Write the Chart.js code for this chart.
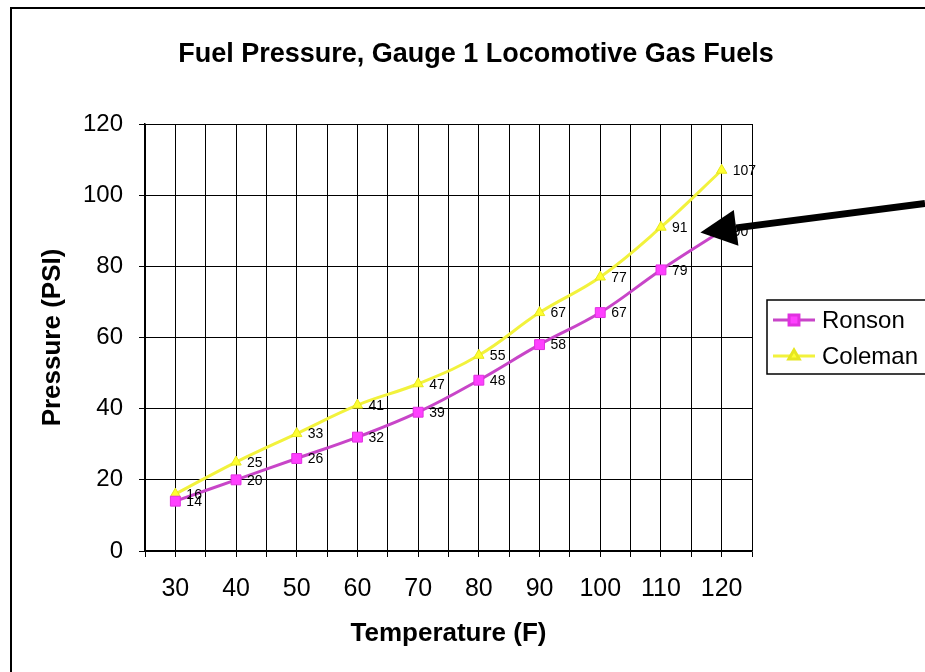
<!DOCTYPE html>
<html>
<head>
<meta charset="utf-8">
<script src="https://cdn.jsdelivr.net/npm/chart.js@4.4.1/dist/chart.umd.min.js"></script>
<style>
  body { margin: 0; background: #fff; }
  canvas { display: block; }
</style>
</head>
<body>
<canvas id="grafico" width="925" height="672"></canvas>
<script>
// values
const temps = [30, 40, 50, 60, 70, 80, 90, 100, 110, 120];
const ronson = [14, 20, 26, 32, 39, 48, 58, 67, 79, 90];
const coleman = [16, 25, 33, 41, 47, 55, 67, 77, 91, 107];
const seriesNames = ['Ronson', 'Coleman'];
const titleText = 'Fuel Pressure, Gauge 1 Locomotive Gas Fuels';

const FONT = '"Liberation Sans", Arial, sans-serif';
Chart.defaults.font.family = FONT;
Chart.defaults.color = '#000';

function pts(vals) {
    return temps.map((t, i) => ({x: t, y: vals[i]}));
}

var extras = {
    id: 'extras',
    afterDatasetsDraw(chart) {
        const ctx = chart.ctx;
        ctx.save();
        ctx.font = '14px ' + FONT;
        ctx.fillStyle = '#000';
        ctx.textAlign = 'left';
        ctx.textBaseline = 'middle';
        chart.data.datasets.forEach((ds, i) => {
            chart.getDatasetMeta(i).data.forEach((pt, j) => {
                ctx.fillText(String(ds.data[j].y), pt.x + 11, pt.y + 1);
            });
        });
        ctx.restore();
    },
    afterDraw(chart) {
        const ctx = chart.ctx;
        const xs = chart.scales.x, ys = chart.scales.y;
        ctx.save();

        // outer frame (cropped at right and bottom)
        ctx.strokeStyle = '#000';
        ctx.lineWidth = 2;
        ctx.strokeRect(11, 8, 1000, 1000);

        // title
        ctx.font = 'bold 27px ' + FONT;
        ctx.textAlign = 'center';
        ctx.textBaseline = 'middle';
        ctx.fillStyle = '#000';
        ctx.fillText(titleText, 476, 55);

        // legend box
        ctx.lineWidth = 1.5;
        ctx.strokeRect(767, 300, 200, 74);
        ctx.font = '24px ' + FONT;
        ctx.textAlign = 'left';
        const rows = [320, 356];
        chart.data.datasets.forEach((ds, i) => {
            const y = rows[i];
            ctx.strokeStyle = ds.borderColor;
            ctx.lineWidth = 3;
            ctx.beginPath();
            ctx.moveTo(773, y);
            ctx.lineTo(815, y);
            ctx.stroke();
            ctx.fillStyle = ds.pointBackgroundColor;
            ctx.strokeStyle = ds.pointBorderColor;
            Chart.helpers.drawPoint(ctx, {pointStyle: ds.pointStyle, radius: ds.pointRadius, rotation: 0, borderWidth: 1}, 794, y);
            ctx.fillStyle = '#000';
            ctx.fillText(ds.label, 822, y + 1);
        });

        // arrow pointing at the Ronson curve near 115 F
        const tipX = xs.getPixelForValue(116.5), tipY = ys.getPixelForValue(89.5);
        const tailX = chart.width, tailY = ys.getPixelForValue(97.7);
        const ang = Math.atan2(tailY - tipY, tailX - tipX);
        const headLen = 36, headW = 18;
        const bx = tipX + Math.cos(ang) * headLen, by = tipY + Math.sin(ang) * headLen;
        ctx.strokeStyle = '#000';
        ctx.lineWidth = 7;
        ctx.beginPath();
        ctx.moveTo(bx, by);
        ctx.lineTo(tailX, tailY);
        ctx.stroke();
        ctx.fillStyle = '#000';
        ctx.beginPath();
        ctx.moveTo(tipX, tipY);
        ctx.lineTo(bx - Math.sin(ang) * headW, by + Math.cos(ang) * headW);
        ctx.lineTo(bx + Math.sin(ang) * headW, by - Math.cos(ang) * headW);
        ctx.closePath();
        ctx.fill();

        ctx.restore();
    }
};

var data1 = {
    datasets: [
        {
            label: seriesNames[0],
            data: pts(ronson),
            borderColor: '#c845c8',
            borderWidth: 3,
            pointStyle: 'rect',
            pointRadius: 7,
            pointBackgroundColor: '#ff40ff',
            pointBorderColor: '#e030e0',
            pointBorderWidth: 1,
            tension: 0.4,
            fill: false
        },
        {
            label: seriesNames[1],
            data: pts(coleman),
            borderColor: '#f2f23c',
            borderWidth: 3,
            pointStyle: 'triangle',
            pointRadius: 6,
            pointBackgroundColor: '#ffff30',
            pointBorderColor: '#e6e620',
            pointBorderWidth: 1,
            tension: 0.4,
            fill: false
        }
    ]
};

var config1 = {
    type: 'line',
    data: data1,
    options: {
        responsive: false,
        animation: false,
        layout: { padding: { top: 124, right: 173, left: 0, bottom: 0 } },
        plugins: {
            legend: { display: false },
            title: { display: false },
            tooltip: { enabled: false }
        },
        scales: {
            x: {
                type: 'linear',
                min: 25,
                max: 125,
                afterFit: function (scale) { scale.height = 121; },
                ticks: {
                    stepSize: 5,
                    autoSkip: false,
                    maxRotation: 0,
                    padding: 17,
                    font: { size: 25 },
                    callback: function (v) { return v % 10 === 0 ? String(v) : ''; }
                },
                grid: { color: '#000', lineWidth: 1, tickLength: 6, tickColor: '#000' },
                border: { color: '#000', width: 1.5 },
                title: {
                    display: true,
                    text: 'Temperature (F)',
                    font: { size: 26, weight: 'bold' },
                    padding: { top: 0, bottom: 23 }
                }
            },
            y: {
                min: 0,
                max: 120,
                afterFit: function (scale) { scale.width = 145; },
                ticks: {
                    stepSize: 20,
                    padding: 16,
                    font: { size: 24 }
                },
                grid: { color: '#000', lineWidth: 1, tickLength: 6, tickColor: '#000' },
                border: { color: '#000', width: 1.5 },
                title: {
                    display: true,
                    text: 'Pressure (PSI)',
                    font: { size: 26, weight: 'bold' },
                    padding: { top: 37, bottom: 0 }
                }
            }
        }
    },
    plugins: [extras]
};

var grafico1 = new Chart(document.getElementById('grafico'), config1);
</script>
</body>
</html>
